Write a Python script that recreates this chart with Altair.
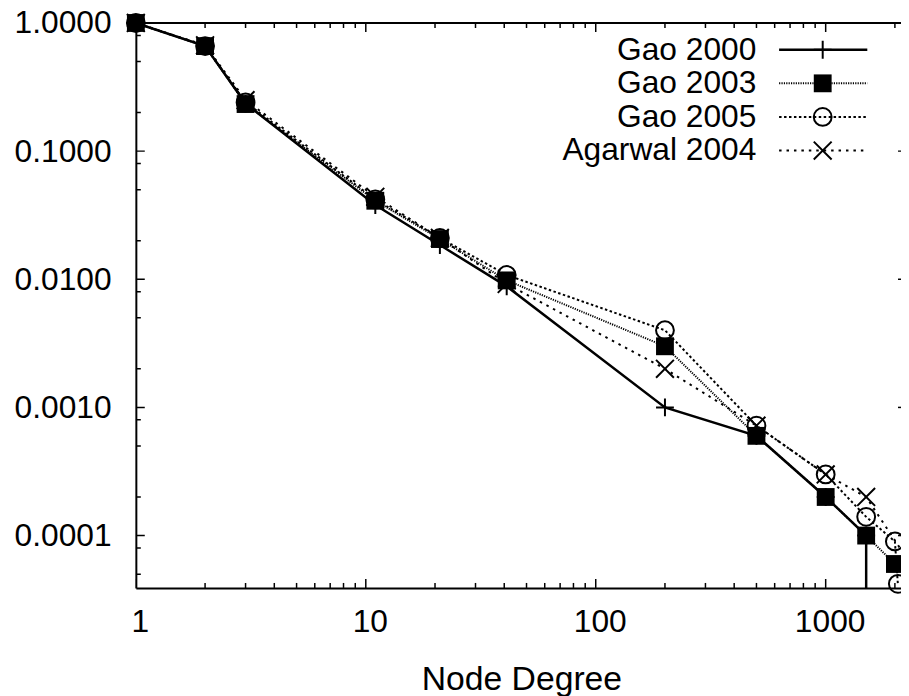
import altair as alt
import pandas as pd

FONT = "Liberation Sans"

# ---- data ----
series_names = ["Gao 2000", "Gao 2003", "Gao 2005", "Agarwal 2004"]

gao2000_x = [1, 2, 3, 11, 21, 41, 200, 500, 1000, 1500, 1500]
gao2000_y = [1.0, 0.66, 0.235, 0.038, 0.0185, 0.0088, 0.001, 0.0006, 0.0002, 0.0001, 0.0000001]

gao2003_x = [1, 2, 3, 11, 21, 41, 200, 500, 1000, 1500, 2000]
gao2003_y = [1.0, 0.66, 0.233, 0.041, 0.0206, 0.0098, 0.003, 0.0006, 0.0002, 0.0001, 0.00006]

gao2005_x = [1, 2, 3, 11, 21, 41, 200, 500, 1000, 1500, 2000, 2060]
gao2005_y = [1.0, 0.66, 0.24, 0.042, 0.021, 0.0108, 0.004, 0.00072, 0.0003, 0.00014, 0.00009, 0.000042]

agarwal_x = [1, 2, 3, 11, 21, 41, 200, 500, 1000, 1500, 2500]
agarwal_y = [1.0, 0.67, 0.25, 0.044, 0.021, 0.0092, 0.002, 0.00072, 0.0003, 0.0002, 0.00005]

x_label_values = [1, 10, 100, 1000]
x_minor_ticks = [2, 3, 4, 5, 6, 7, 8, 9, 20, 30, 40, 50, 60, 70, 80, 90,
                 200, 300, 400, 500, 600, 700, 800, 900, 2000]
y_label_values = [0.0001, 0.001, 0.01, 0.1, 1.0]
y_minor_ticks = [0.8, 0.5, 0.2, 0.08, 0.05, 0.02, 0.008, 0.005, 0.002,
                 0.0008, 0.0005, 0.0002, 0.00008, 0.00005]

# ---- layout ----
W, H = 772, 570
XR = 778          # where the (off-page) right border would be
MAJ, MIN = 9, 5   # tick lengths

xs = alt.Scale(type="log", domain=[1, 2126], nice=False)
ys = alt.Scale(type="log", domain=[3.904e-5, 1], nice=False)

xaxis = alt.Axis(values=x_label_values, format="d", grid=False, ticks=False, tickSize=0,
                 labelFont=FONT, labelFontSize=32, labelColor="black", labelPadding=19,
                 labelOffset=4, labelFlush=False, labelOverlap=False,
                 domainColor="black", domainWidth=2,
                 title="Node Degree", titleFont=FONT, titleFontSize=34, titleFontWeight="normal",
                 titleColor="black", titleX=389, titleY=102, titleBaseline="alphabetic")
yaxis = alt.Axis(values=y_label_values, format=".4f", grid=False, ticks=False, tickSize=0,
                 labelFont=FONT, labelFontSize=32, labelColor="black", labelPadding=25,
                 labelFlush=False, labelOverlap=False,
                 domainColor="black", domainWidth=2, title=None)

PLUS = "M-1,0H1M0,-1V1"
CROSS = "M-1,-1L1,1M-1,1L1,-1"

styles = {
    "Gao 2000": dict(x=gao2000_x, y=gao2000_y, dash=None, width=2.5, shape=PLUS, filled=False),
    "Gao 2003": dict(x=gao2003_x, y=gao2003_y, dash=[1.2, 1.2], width=2, shape="square", filled=True),
    "Gao 2005": dict(x=gao2005_x, y=gao2005_y, dash=[2.5, 2.5], width=2, shape="circle", filled=False),
    "Agarwal 2004": dict(x=agarwal_x, y=agarwal_y, dash=[2.5, 5], width=2, shape=CROSS, filled=False),
}

layers = []

# ticks (gnuplot style, pointing inward, mirrored)
def xticks(vals, y1, y2):
    return alt.Chart(pd.DataFrame({"x": vals})).mark_rule(
        color="black", strokeWidth=1.5, clip=True).encode(
        x=alt.X("x:Q", scale=xs, axis=xaxis), y=alt.value(y1), y2=alt.value(y2))

def yticks(vals, x1, x2):
    return alt.Chart(pd.DataFrame({"y": vals})).mark_rule(
        color="black", strokeWidth=1.5, clip=True).encode(
        y=alt.Y("y:Q", scale=ys, axis=yaxis), x=alt.value(x1), x2=alt.value(x2))

layers += [
    xticks(x_label_values, H, H - MAJ), xticks(x_minor_ticks, H, H - MIN),
    xticks(x_label_values, 0, MAJ), xticks(x_minor_ticks, 0, MIN),
    yticks(y_label_values, 0, MAJ), yticks(y_minor_ticks, 0, MIN),
    yticks(y_label_values, XR - MAJ, XR), yticks(y_minor_ticks, XR - MIN, XR),
]

# top border
layers.append(alt.Chart(pd.DataFrame({"a": [0]})).mark_rule(color="black", strokeWidth=2).encode(
    x=alt.value(0), x2=alt.value(W), y=alt.value(0)))

# series
for name in series_names:
    st = styles[name]
    df = pd.DataFrame({"x": st["x"], "y": st["y"], "i": list(range(len(st["x"])))})
    line_kw = dict(color="black", strokeWidth=st["width"], clip=True)
    if st["dash"]:
        line_kw["strokeDash"] = st["dash"]
    base = alt.Chart(df)
    enc = dict(x=alt.X("x:Q", scale=xs, axis=xaxis), y=alt.Y("y:Q", scale=ys, axis=yaxis))
    layers.append(base.mark_line(**line_kw).encode(order="i:Q", **enc))
    pt_kw = dict(shape=st["shape"], size=324, filled=st["filled"], color="black",
                 opacity=1, strokeWidth=2)
    layers.append(base.mark_point(**pt_kw).encode(**enc))

# legend (gnuplot style: label on the left, sample on the right)
for k, name in enumerate(series_names):
    st = styles[name]
    ry = 27 + k * 33.9
    ldf = pd.DataFrame({"name": [name]})
    lb = alt.Chart(ldf)
    layers.append(lb.mark_text(align="right", baseline="middle", font=FONT, fontSize=32,
                               color="black").encode(x=alt.value(626), y=alt.value(ry), text="name:N"))
    rk = dict(color="black", strokeWidth=st["width"])
    if st["dash"]:
        rk["strokeDash"] = st["dash"]
    layers.append(lb.mark_rule(**rk).encode(x=alt.value(649), x2=alt.value(738), y=alt.value(ry)))
    layers.append(lb.mark_point(shape=st["shape"], size=324, filled=st["filled"], color="black",
                                opacity=1, strokeWidth=2).encode(x=alt.value(693), y=alt.value(ry)))

chart = alt.layer(*layers).properties(
    width=W, height=H,
    autosize=alt.AutoSizeParams(type="none"),
    padding={"left": 129, "top": 12, "right": 0, "bottom": 112},
    background="white",
).configure_view(stroke=None)

chart.save("out.html", embed_options={"renderer": "svg", "actions": False})
